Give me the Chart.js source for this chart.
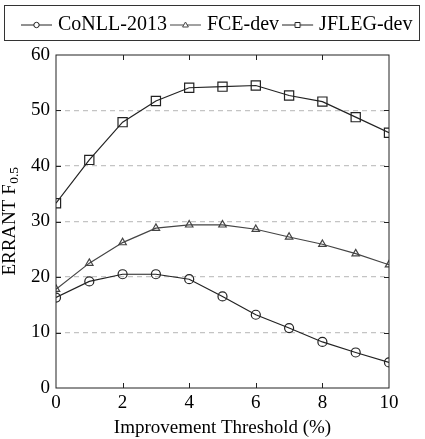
<!DOCTYPE html>
<html>
<head>
<meta charset="utf-8">
<script src="https://cdn.jsdelivr.net/npm/chart.js@4.4.0/dist/chart.umd.min.js"></script>
<style>
  html, body { margin: 0; padding: 0; background: #fff; }
  #wrap { width: 425px; height: 439px; }
</style>
</head>
<body>
<div id="wrap"><canvas id="chart"></canvas></div>
<script>
const thresholds = [0, 1, 2, 3, 4, 5, 6, 7, 8, 9, 10];
const conll = [16.3, 19.2, 20.5, 20.5, 19.6, 16.5, 13.2, 10.8, 8.3, 6.4, 4.6];
const fce = [17.8, 22.5, 26.2, 28.8, 29.4, 29.4, 28.6, 27.2, 25.9, 24.2, 22.2];
const jfleg = [33.3, 41.1, 47.9, 51.7, 54.1, 54.3, 54.5, 52.7, 51.6, 48.8, 46.0];
const seriesNames = ['CoNLL-2013', 'FCE-dev', 'JFLEG-dev'];

const FONT = '"Liberation Serif", "Times New Roman", serif';
const lineColor = ['#222', '#444', '#222'];
const markers = ['circle', 'triangle', 'rect'];
const markerRadius = [4.5, 4.3, 6.5];

// small "line + marker" images for the legend
function legendIcon(kind, color) {
  const c = document.createElement('canvas');
  c.width = 34; c.height = 12;
  const g = c.getContext('2d');
  g.strokeStyle = color;
  g.lineWidth = 1;
  g.beginPath(); g.moveTo(0, 6); g.lineTo(31, 6); g.stroke();
  g.beginPath();
  if (kind === 'circle') g.arc(15.5, 6, 2.7, 0, Math.PI * 2);
  if (kind === 'triangle') { g.moveTo(15.5, 3); g.lineTo(18.4, 8); g.lineTo(12.6, 8); g.closePath(); }
  if (kind === 'rect') g.rect(13, 3.5, 5, 5);
  g.fillStyle = '#fff';
  g.fill();
  g.stroke();
  return c;
}
const icons = markers.map((m, i) => legendIcon(m, lineColor[i]));

function pts(arr) {
  return arr.map((v, i) => ({ x: thresholds[i], y: v }));
}

const fixLegend = {
  id: 'fixLegend',
  beforeLayout(chart) {
    const lg = chart.legend;
    if (lg && !lg._fixed) {
      const fit = lg.fit.bind(lg);
      lg.fit = function () { fit(); this.height = 50; };
      lg._fixed = true;
    }
  }
};

const decorations = {
  id: 'decorations',
  afterDraw(chart) {
    const { ctx, chartArea: a, scales } = chart;
    ctx.save();
    // legend frame
    ctx.strokeStyle = '#333';
    ctx.lineWidth = 1;
    ctx.strokeRect(4.5, 5.5, 415, 35);
    // plot frame
    ctx.strokeStyle = '#222';
    ctx.strokeRect(a.left, a.top, a.right - a.left, a.bottom - a.top);
    // inward ticks on all sides
    ctx.beginPath();
    [2, 4, 6, 8].forEach(v => {
      const x = Math.round(scales.x.getPixelForValue(v)) + 0.5;
      ctx.moveTo(x, a.bottom); ctx.lineTo(x, a.bottom - 5);
      ctx.moveTo(x, a.top); ctx.lineTo(x, a.top + 5);
    });
    [10, 20, 30, 40, 50].forEach(v => {
      const y = Math.round(scales.y.getPixelForValue(v)) + 0.5;
      ctx.moveTo(a.left, y); ctx.lineTo(a.left + 5, y);
      ctx.moveTo(a.right, y); ctx.lineTo(a.right - 5, y);
    });
    ctx.stroke();
    // y axis title with subscript
    ctx.fillStyle = '#000';
    ctx.translate(15, (a.top + a.bottom) / 2);
    ctx.rotate(-Math.PI / 2);
    ctx.textBaseline = 'alphabetic';
    ctx.font = '19px ' + FONT;
    const main = 'ERRANT F';
    const wMain = ctx.measureText(main).width;
    ctx.font = '13.5px ' + FONT;
    const sub = '0.5';
    const wSub = ctx.measureText(sub).width;
    const start = -(wMain + wSub) / 2;
    ctx.font = '19px ' + FONT;
    ctx.fillText(main, start, 0);
    ctx.font = '13.5px ' + FONT;
    ctx.fillText(sub, start + wMain + 0.5, 3);
    ctx.restore();
  }
};

new Chart(document.getElementById('chart'), {
  type: 'line',
  data: {
    datasets: [conll, fce, jfleg].map((arr, i) => ({
      label: seriesNames[i],
      data: pts(arr),
      borderColor: lineColor[i],
      borderWidth: 1.2,
      tension: 0,
      fill: false,
      pointStyle: markers[i],
      pointRadius: markerRadius[i],
      pointHoverRadius: markerRadius[i],
      pointBorderWidth: 1.2,
      pointBorderColor: lineColor[i],
      pointBackgroundColor: 'rgba(0,0,0,0)'
    }))
  },
  options: {
    responsive: true,
    maintainAspectRatio: false,
    animation: false,
    layout: { padding: { left: 18, right: 0, top: 5, bottom: 0 } },
    plugins: {
      tooltip: { enabled: false },
      legend: {
        position: 'top',
        align: 'start',
        labels: {
          usePointStyle: true,
          pointStyleWidth: 20,
          boxHeight: 12,
          padding: 10,
          color: '#000',
          font: { family: FONT, size: 20 },
          generateLabels: chart => chart.data.datasets.map((ds, i) => ({
            text: ds.label,
            pointStyle: icons[i],
            fillStyle: 'rgba(0,0,0,0)',
            strokeStyle: ds.borderColor,
            lineWidth: 0,
            hidden: false,
            datasetIndex: i
          }))
        }
      }
    },
    scales: {
      x: {
        type: 'linear',
        min: 0,
        max: 10,
        ticks: { stepSize: 2, padding: 4, color: '#000', font: { family: FONT, size: 19 } },
        grid: { display: false, drawTicks: false },
        border: { display: false },
        title: {
          display: true,
          text: 'Improvement Threshold (%)',
          color: '#000',
          font: { family: FONT, size: 19, lineHeight: 1.0 },
          padding: { top: 0, bottom: 1 }
        },
        afterFit(s) { s.height = 51; }
      },
      y: {
        min: 0,
        max: 60,
        ticks: { stepSize: 10, padding: 6, color: '#000', font: { family: FONT, size: 19 } },
        grid: {
          drawTicks: false,
          lineWidth: 1.2,
          color: c => (c.tick.value === 0 || c.tick.value === 60) ? 'rgba(0,0,0,0)' : '#c4c4c4'
        },
        border: { display: false, dash: [5, 4] },
        afterFit(s) { s.width = 38; }
      },
      y2: {
        position: 'right',
        display: true,
        grid: { display: false, drawTicks: false },
        border: { display: false },
        ticks: { display: false },
        afterFit(s) { s.width = 36; }
      }
    }
  },
  plugins: [fixLegend, decorations]
});
</script>
</body>
</html>
